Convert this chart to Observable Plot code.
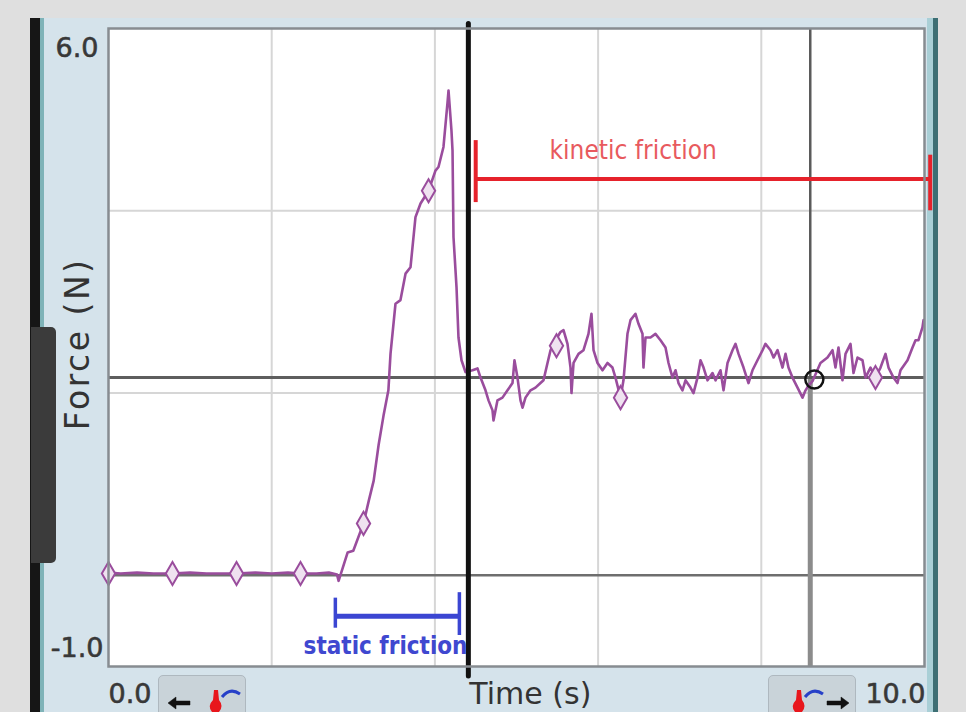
<!DOCTYPE html>
<html><head><meta charset="utf-8">
<script src="https://cdn.jsdelivr.net/npm/d3@7"></script>
<script src="https://cdn.jsdelivr.net/npm/@observablehq/plot@0.6"></script>
<style>
html,body{margin:0;padding:0}
body{background:#dfdfdf;width:966px;height:712px;overflow:hidden;position:relative;font-family:"DejaVu Sans",sans-serif}
#panel{position:absolute;left:40px;top:18px;width:897px;height:694px;background:#d5e3eb}
#lstripe{position:absolute;left:30px;top:18px;width:10px;height:694px;background:#161616}
#lteal{position:absolute;left:40px;top:18px;width:4px;height:694px;background:#7fb3b8}
#rstripe{position:absolute;left:933px;top:18px;width:5px;height:694px;background:#3d6f74}
#rteal{position:absolute;left:927px;top:18px;width:6px;height:694px;background:#a9cfd6}
#tab{position:absolute;left:31px;top:327px;width:25px;height:236px;background:#3b3b3b;border-radius:0 5px 5px 0}
.btn{position:absolute;top:675px;width:88px;height:44px;background:#c9d3d9;border:1px solid #aeb8bf;border-radius:5px;box-sizing:border-box}
#chart{position:absolute;left:0;top:0}
#icons{position:absolute;left:0;top:0}
</style></head>
<body>
<div id="panel"></div><div id="lstripe"></div><div id="lteal"></div><div id="rteal"></div><div id="rstripe"></div><div id="tab"></div>
<div class="btn" style="left:158px"></div>
<div class="btn" style="left:768px"></div>
<svg id="icons" width="966" height="712">
  <g fill="#111" stroke="#111">
    <path d="M168 703 L176 697 L176 701 L190 701 L190 705 L176 705 L176 709 Z" stroke-width="0.5"/>
    <path d="M849 703 L841 697 L841 701 L827 701 L827 705 L841 705 L841 709 Z" stroke-width="0.5"/>
  </g>
  <g fill="#e8161c"><path d="M214 690 L218 690 L219 700 Q224 706 219 712 L212 712 Q207 706 213 700 Z"/>
  <path d="M797 690 L801 690 L802 700 Q807 706 802 712 L795 712 Q790 706 796 700 Z"/></g>
  <g fill="none" stroke="#2640c8" stroke-width="3"><path d="M222 697 Q230 687 240 694"/><path d="M805 697 Q813 687 823 694"/></g>
</svg>
<div id="chart"></div>
<script>
// ---- data ----
const flatTime  = [0, 0.15, 0.35, 0.55, 0.78, 1.0, 1.2, 1.4, 1.57, 1.8, 2.0, 2.2, 2.35, 2.55, 2.7, 2.8];
const flatForce = [0.03, 0.02, 0.03, 0.02, 0.02, 0.03, 0.02, 0.02, 0.02, 0.03, 0.02, 0.03, 0.02, 0.02, 0.03, 0.01];

const riseTime  = [2.82, 2.93, 3.0, 3.125, 3.19, 3.25, 3.31, 3.37, 3.43, 3.456, 3.517, 3.578, 3.64, 3.701, 3.762, 3.824,
                   3.922, 4.007, 4.044, 4.105, 4.154, 4.167, 4.203, 4.216, 4.228, 4.265, 4.289, 4.326, 4.375, 4.461, 4.522];
const riseForce = [-0.06, 0.25, 0.27, 0.57, 0.82, 1.04, 1.43, 1.75, 2.03, 2.43, 2.98, 3.02, 3.31, 3.38, 3.93, 4.08,
                   4.22, 4.44, 4.48, 4.70, 5.18, 5.32, 4.88, 4.66, 3.71, 3.16, 2.61, 2.36, 2.23, 2.25, 2.27];

const kineticTime = [
  4.559, 4.620, 4.657, 4.706, 4.718, 4.767, 4.828, 4.890, 4.951, 4.975,
  5.012, 5.049, 5.074, 5.110, 5.172, 5.233, 5.294, 5.331, 5.380, 5.417,
  5.478, 5.539, 5.576, 5.625, 5.662, 5.674, 5.699, 5.760, 5.821, 5.882,
  5.919, 5.944, 5.993, 6.054, 6.115, 6.176, 6.213, 6.275, 6.311, 6.360,
  6.397, 6.458, 6.495, 6.544, 6.556, 6.581, 6.642, 6.703, 6.765, 6.826,
  6.863, 6.912, 6.949, 6.985, 7.034, 7.071, 7.132, 7.169, 7.218, 7.255,
  7.292, 7.341, 7.402, 7.439, 7.500, 7.537, 7.586, 7.647, 7.684, 7.721,
  7.782, 7.843, 7.892, 7.953, 8.015, 8.051, 8.113, 8.150, 8.199, 8.260,
  8.297, 8.333, 8.382, 8.444, 8.505, 8.542, 8.578, 8.627, 8.725, 8.811,
  8.873, 8.909, 8.946, 8.995, 9.032, 9.093, 9.130, 9.179, 9.240, 9.277,
  9.338, 9.399, 9.461, 9.522, 9.559, 9.620, 9.669, 9.706, 9.792, 9.853,
  9.890, 9.926, 9.975, 9.988];
const kineticForce = [
  2.17, 2.03, 1.92, 1.81, 1.70, 1.92, 1.95, 2.03, 2.11, 2.36,
  2.17, 1.92, 1.84, 1.95, 2.03, 2.06, 2.11, 2.14, 2.33, 2.47,
  2.58, 2.67, 2.69, 2.54, 2.28, 2.00, 2.33, 2.43, 2.47, 2.65,
  2.87, 2.47, 2.33, 2.25, 2.33, 2.28, 2.17, 1.95, 2.14, 2.65,
  2.80, 2.87, 2.76, 2.65, 2.28, 2.61, 2.61, 2.65, 2.58, 2.50,
  2.33, 2.17, 2.25, 2.11, 2.03, 2.14, 2.06, 2.00, 2.17, 2.36,
  2.28, 2.14, 2.22, 2.14, 2.25, 2.03, 2.33, 2.47, 2.54, 2.43,
  2.28, 2.11, 2.25, 2.36, 2.47, 2.54, 2.47, 2.39, 2.47, 2.28,
  2.43, 2.28, 2.17, 2.06, 1.95, 2.03, 2.08, 2.13, 2.33, 2.39,
  2.47, 2.28, 2.50, 2.14, 2.43, 2.54, 2.22, 2.39, 2.36, 2.17,
  2.28, 2.17, 2.28, 2.43, 2.28, 2.17, 2.11, 2.25, 2.36, 2.50,
  2.58, 2.58, 2.72, 2.80];

const markerTime  = [0, 0.784, 1.569, 2.353, 3.125, 3.922, 5.49, 6.275, 9.399];
const markerForce = [0.02, 0.02, 0.02, 0.02, 0.57, 4.22, 2.52, 1.95, 2.17];

const yTickValues = [6, -1];
const yTickLabels = ["6.0", "-1.0"];
const xTickValues = [0, 10];
const xTickLabels = ["0.0", "10.0"];
const gridTimes = [2, 4, 6, 8];
const gridForces = [2, 4];

const releaseTime = 4.41;          // black vertical line
const cursorTime = 8.60, cursorForce = 2.17;
const circlePoint = {t: 8.65, f: 2.15};
const staticBar  = {t1: 2.78, t2: 4.30, f: -0.45, l1: -0.25, l2: -0.58, r1: -0.19, r2: -0.66, label: "static friction", lt: 3.395, lf: -0.78};
const kineticBar = {t1: 4.50, t2: 10.07, f: 4.35, l1: 4.77, l2: 4.09, r1: 4.61, r2: 4.00, label: "kinetic friction", lt: 6.43, lf: 4.66};
const yLabel = {text: "Force (N)", t: -0.368, f: 2.54};
const xLabel = {text: "Time (s)", t: 5.17};

// ---- build ----
const allTime = flatTime.concat(riseTime, kineticTime);
const allForce = flatForce.concat(riseForce, kineticForce);
const series = allTime.map((t, i) => ({t, f: allForce[i]}));
const markers = markerTime.map((t, i) => ({t, f: markerForce[i]}));
const yTicks = yTickValues.map((v, i) => ({v, label: yTickLabels[i]}));
const xTicks = xTickValues.map((v, i) => ({v, label: xTickLabels[i]}));

const PURPLE = "#9a4d9d";
const TICKC = "#383838";
const narrow = "'DejaVu Sans Condensed','Liberation Sans Narrow','Roboto Condensed','DejaVu Sans',sans-serif";

const chart = Plot.plot({
  width: 966, height: 712,
  marginLeft: 108, marginRight: 42, marginTop: 28, marginBottom: 46,
  style: {background: "transparent", overflow: "visible"},
  x: {domain: [0, 10], axis: null},
  y: {domain: [-1, 6], axis: null},
  marks: [
    Plot.frame({fill: "white", stroke: null}),
    Plot.gridX(gridTimes, {stroke: "#d6d6d6", strokeOpacity: 1, strokeWidth: 2}),
    Plot.gridY(gridForces, {stroke: "#d6d6d6", strokeOpacity: 1, strokeWidth: 2}),
    Plot.ruleY([0], {stroke: "#6e6e6e", strokeWidth: 2.5}),
    Plot.ruleY([cursorForce], {stroke: "#5e5e5e", strokeWidth: 3}),
    Plot.ruleX([cursorTime], {y1: 6, y2: circlePoint.f, stroke: "#5a5a5a", strokeWidth: 2.5}),
    Plot.ruleX([cursorTime], {y1: circlePoint.f, y2: -1, stroke: "#8c8c8c", strokeWidth: 5}),
    Plot.line(series, {x: "t", y: "f", stroke: PURPLE, strokeWidth: 2.6, strokeLinejoin: "round"}),
    Plot.dot(markers, {x: "t", y: "f", symbol: "diamond", r: 7, stroke: PURPLE, strokeWidth: 2, fill: "#efe2f0"}),
    Plot.ruleX([releaseTime], {y1: 6.05, y2: -1.11, stroke: "#111", strokeWidth: 5, strokeLinecap: "round"}),
    Plot.dot([circlePoint], {x: "t", y: "f", r: 9, stroke: "#111", strokeWidth: 2.5, fill: "none"}),
    // kinetic friction bracket
    Plot.ruleY([kineticBar], {x1: "t1", x2: "t2", y: "f", stroke: "#e6222b", strokeWidth: 4}),
    Plot.ruleX([kineticBar], {x: "t1", y1: "l1", y2: "l2", stroke: "#e6222b", strokeWidth: 4}),
    Plot.ruleX([kineticBar], {x: "t2", y1: "r1", y2: "r2", stroke: "#e6222b", strokeWidth: 4}),
    Plot.text([kineticBar], {x: "lt", y: "lf", text: "label", fill: "#e85a5e", fontSize: 26, fontFamily: narrow}),
    // static friction bracket
    Plot.ruleY([staticBar], {x1: "t1", x2: "t2", y: "f", stroke: "#3b46d2", strokeWidth: 5}),
    Plot.ruleX([staticBar], {x: "t1", y1: "l1", y2: "l2", stroke: "#3b46d2", strokeWidth: 3.5}),
    Plot.ruleX([staticBar], {x: "t2", y1: "r1", y2: "r2", stroke: "#3b46d2", strokeWidth: 3.5}),
    Plot.text([staticBar], {x: "lt", y: "lf", text: "label", fill: "#3f48d0", fontSize: 24, fontWeight: "bold", fontFamily: narrow}),
    Plot.frame({stroke: "#878c91", strokeWidth: 2.5}),
    // tick labels
    Plot.text(yTicks.slice(0, 1), {frameAnchor: "left", y: "v", text: "label", textAnchor: "end", dx: -10, dy: 20, fontSize: 27, fill: TICKC, stroke: TICKC, strokeWidth: 0.6, fontFamily: "DejaVu Sans"}),
    Plot.text(yTicks.slice(1), {frameAnchor: "left", y: "v", text: "label", textAnchor: "end", dx: -5, dy: -18, fontSize: 27, fill: TICKC, stroke: TICKC, strokeWidth: 0.6, fontFamily: "DejaVu Sans"}),
    Plot.text(xTicks.slice(0, 1), {frameAnchor: "bottom", x: "v", text: "label", textAnchor: "start", dy: 36, fontSize: 27, fill: TICKC, stroke: TICKC, strokeWidth: 0.6, fontFamily: "DejaVu Sans"}),
    Plot.text(xTicks.slice(1), {frameAnchor: "bottom", x: "v", text: "label", textAnchor: "end", dx: 1, dy: 36, fontSize: 27, fill: TICKC, stroke: TICKC, strokeWidth: 0.6, fontFamily: "DejaVu Sans"}),
    Plot.text([xLabel], {frameAnchor: "bottom", x: "t", text: "text", dy: 37, fontSize: 30, fill: "#333", fontFamily: "DejaVu Sans"}),
    Plot.text([yLabel], {x: "t", y: "f", text: "text", rotate: -90, fontSize: 33, fill: "#333", fontFamily: "DejaVu Sans"})
  ]
});
d3.select(chart).selectAll("text").filter(function(){ return this.textContent === "Force (N)"; }).attr("letter-spacing", "2.5px");
document.getElementById("chart").appendChild(chart);
</script>
</body></html>
